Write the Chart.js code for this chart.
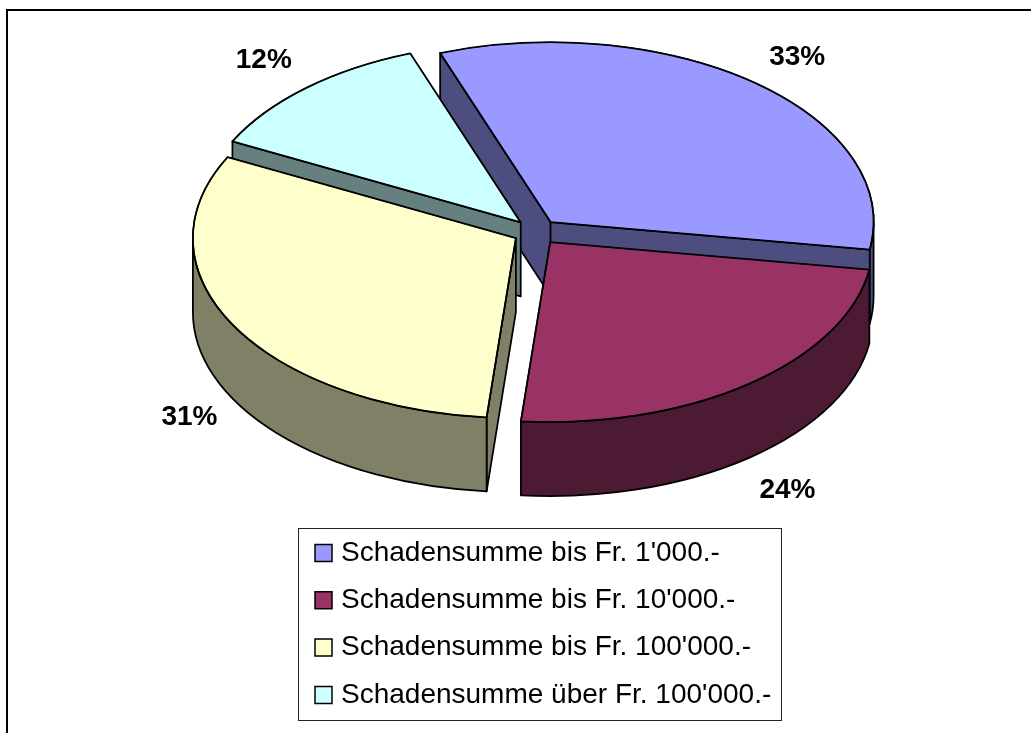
<!DOCTYPE html>
<html><head><meta charset="utf-8">
<style>html,body{margin:0;padding:0;background:#fff}canvas{display:block}</style>
<script src="https://cdn.jsdelivr.net/npm/chart.js@4/dist/chart.umd.min.js"></script>
</head><body>
<canvas id="c" width="1031" height="733"></canvas>
<script>
const categories = ["Schadensumme bis Fr. 1'000.-","Schadensumme bis Fr. 10'000.-","Schadensumme bis Fr. 100'000.-","Schadensumme über Fr. 100'000.-"];
const shares = [33,24,31,12];
const faceColors = ['#9999FF','#993366','#FFFFCC','#CCFFFF'];
const wallColors = ['#4D4D80','#4D1A33','#808066','#668080'];
const paintOrder = [0,3,2,1];

const TILT = 0.557, DEPTH = 74, EXPLODE = 23, CENTER_Y = 232, RADIUS = 323, LABEL_R = 410, STROKE = 1.75;
const LABEL_NUDGE = [[1,2],[-1,4],[12,1],[0,-1]];

function sector(arc){
  const p = arc.getProps(['x','startAngle','endAngle','outerRadius'], true);
  const mid = (p.startAngle + p.endAngle)/2;
  return {x:p.x + Math.cos(mid)*EXPLODE, y:CENTER_Y + Math.sin(mid)*EXPLODE*TILT,
          r:p.outerRadius, ry:p.outerRadius*TILT, s:p.startAngle, e:p.endAngle, mid};
}
function pt(g,a){ return [g.x+g.r*Math.cos(a), g.y+g.ry*Math.sin(a)]; }

const pie3d = {
  id:'pie3d',
  beforeDraw(chart){
    const c = chart.ctx; c.save();
    c.strokeStyle='#000'; c.lineWidth=2;
    c.strokeRect(7,10,1040,760);
    c.restore();
  },
  afterLayout(chart){
    const l = chart.legend; const pad = l.options.labels.padding;
    l.left = 320-pad; l.top = 539-pad; l.right = 800; l.bottom = 733;
  },
  beforeDatasetDraw(chart){
    const c = chart.ctx, arcs = chart.getDatasetMeta(0).data;
    c.save(); c.lineWidth=STROKE; c.strokeStyle='#000'; c.lineJoin='round';
    paintOrder.forEach(i=>{
      const g = sector(arcs[i]); c.fillStyle = wallColors[i];
      const radial = a=>{
        const o=pt(g,a);
        c.beginPath(); c.moveTo(g.x,g.y); c.lineTo(o[0],o[1]); c.lineTo(o[0],o[1]+DEPTH); c.lineTo(g.x,g.y+DEPTH); c.closePath(); c.fill(); c.stroke();
      };
      if(Math.cos(g.s)<0) radial(g.s);
      if(Math.cos(g.e)>0) radial(g.e);
      const lo=Math.max(g.s,0), hi=Math.min(g.e,Math.PI);
      if(lo<hi){
        c.beginPath(); c.ellipse(g.x,g.y,g.r,g.ry,0,lo,hi);
        c.ellipse(g.x,g.y+DEPTH,g.r,g.ry,0,hi,lo,true); c.closePath(); c.fill(); c.stroke();
      }
    });
    paintOrder.forEach(i=>{
      const a = arcs[i], g = sector(a), p = a.getProps(['x','y'],true);
      c.save();
      c.translate(g.x, g.y); c.scale(1,TILT); c.translate(-p.x,-p.y);
      a.draw(c);
      c.restore();
      c.beginPath(); c.moveTo(g.x,g.y); c.ellipse(g.x,g.y,g.r,g.ry,0,g.s,g.e); c.closePath(); c.stroke();
    });
    c.restore();
    return false;
  },
  afterDraw(chart){
    const c = chart.ctx, arcs = chart.getDatasetMeta(0).data;
    c.save();
    c.strokeStyle='#222'; c.lineWidth=1; c.strokeRect(298.5,528.5,483,192);
    c.fillStyle='#000'; c.font='bold 28px "Liberation Sans", Arial, sans-serif';
    c.textAlign='center'; c.textBaseline='middle';
    arcs.forEach((a,i)=>{
      const g=sector(a), m=g.mid, sy=Math.sin(m);
      c.fillText(shares[i]+'%', a.x+Math.cos(m)*LABEL_R+LABEL_NUDGE[i][0], CENTER_Y+sy*LABEL_R*TILT+(sy>0?DEPTH:0)+LABEL_NUDGE[i][1]);
    });
    c.restore();
  }
};

new Chart(document.getElementById('c'),{
  type:'pie',
  data:{labels:categories,datasets:[{data:shares,backgroundColor:faceColors,borderColor:'#000',borderWidth:1.5}]},
  options:{
    responsive:false,animation:false,rotation:-20,radius:RADIUS,
    layout:{padding:{left:41}},
    plugins:{
      tooltip:{enabled:false},
      legend:{position:'chartArea',align:'start',
        labels:{usePointStyle:true,pointStyle:'rect',boxWidth:7,boxHeight:17,padding:19.3,color:'#000',font:{family:'"Liberation Sans", Arial, sans-serif',size:28}}}
    }
  },
  plugins:[pie3d]
});
</script>
</body></html>
